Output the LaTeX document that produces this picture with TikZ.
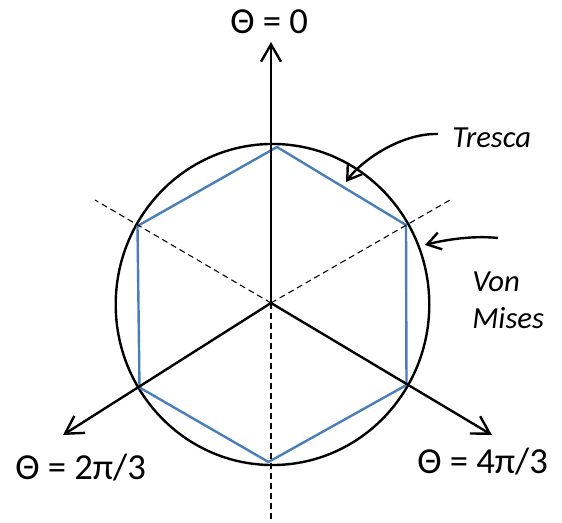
\documentclass[tikz,border=0pt]{standalone}
\usepackage{fontspec}
\setmainfont{Carlito}
\usetikzlibrary{arrows.meta}
\definecolor{hexblue}{HTML}{4A7EBB}
\tikzset{
  axis/.style={line width=1.8pt, black, -{Straight Barb[length=13pt,width=15pt]}},
  guide/.style={line width=0.8pt, black, dash pattern=on 4.5pt off 3pt},
  hexline/.style={line width=1.8pt, hexblue, line join=miter},
  ring/.style={line width=1.8pt, black},
  pointer/.style={line width=1.8pt, black, -{Straight Barb[length=10pt,width=13pt]}},
  axlabel/.style={font=\fontsize{27.5}{32}\selectfont, inner sep=0pt, anchor=base west},
  critlabel/.style={font=\fontsize{23}{27.5}\selectfont\itshape, inner sep=0pt, anchor=base west}
}
\begin{document}
\begin{tikzpicture}[x=0.75pt,y=-0.75pt]
\useasboundingbox (0,0) rectangle (562,523);
% key points
\coordinate (O) at (271,303);
\coordinate (t0) at (271,42);
\coordinate (t2) at (63,435);
\coordinate (t4) at (492,435);
\coordinate (dUL) at (95,200);
\coordinate (dUR) at (450,200);
\coordinate (dB) at (271,520);
\coordinate (h1) at (277,147);
\coordinate (h2) at (406,225);
\coordinate (h3) at (406.5,385);
\coordinate (h4) at (268.5,462);
\coordinate (h5) at (139.5,387.5);
\coordinate (h6) at (137.5,226);
\coordinate (C) at (272.5,304.5);
% von Mises circle
\draw[ring] (C) ellipse [x radius=117.6pt, y radius=120.4pt];
% Tresca hexagon
\draw[hexline] (h1) -- (h2) -- (h3) -- (h4) -- (h5) -- (h6) -- cycle;
% dashed guides
\draw[guide] (O) -- (dUL);
\draw[guide] (O) -- (dUR);
\draw[guide] (O) -- (dB);
% axes
\draw[axis] (O) -- (t0);
\draw[axis] (O) -- (t2);
\draw[axis] (O) -- (t4);
% labels
\node[axlabel] (L0) at (230,34) {Θ = 0};
\node[axlabel] (L2) at (15,479.3) {Θ = 2π/3};
\node[axlabel] (L4) at (417,474) {Θ = 4π/3};
\node[critlabel] (Ltr) at (452,148) {Tresca};
\node[critlabel] (Lvm1) at (472,291.7) {Von};
\node[critlabel] (Lvm2) at (472,328.3) {Mises};
% pointers
\coordinate (trs) at (438,134);
\coordinate (tre) at (346,182);
\coordinate (vms) at (498,238);
\coordinate (vme) at (425,245);
\draw[pointer] (trs) .. controls (400,133) and (360,162) .. (tre);
\draw[pointer] (vms) .. controls (470,235) and (440,241) .. (vme);
\end{tikzpicture}
\end{document}
